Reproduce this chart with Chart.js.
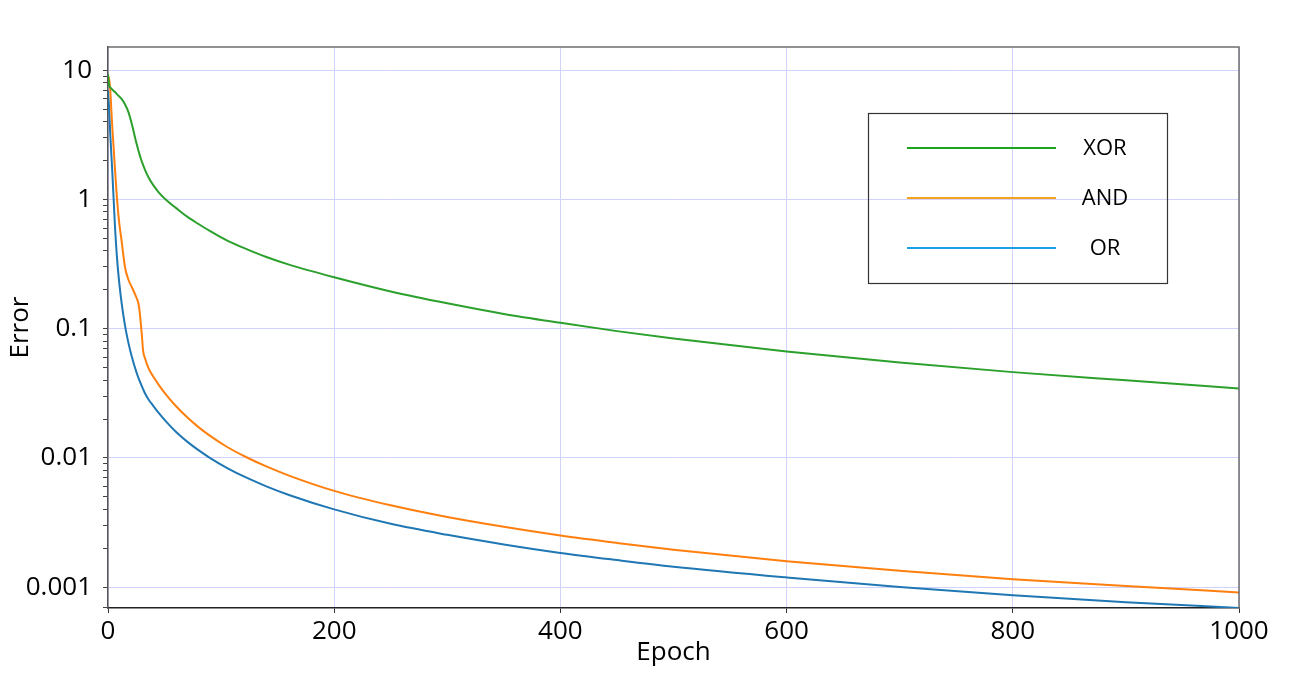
<!DOCTYPE html>
<html lang="en">
<head>
    <meta charset="UTF-8">
    <title>Error vs Epoch</title>
    <script src="https://cdn.jsdelivr.net/npm/chart.js"></script>
    <style>
        body { margin: 0; background: #fff; }
        #wrap { width: 1292px; height: 681px; }
    </style>
</head>
<body>
    <div id="wrap">
        <canvas id="errorChart" width="1292" height="681"></canvas>
    </div>

    <script>
        // Values
        const epochs = [0, 1, 2, 3, 4, 5, 6, 8, 10, 12, 15, 18, 21, 25, 27, 28, 29, 30, 31, 33, 36, 40, 45, 52, 60, 70, 80, 90, 105, 122, 140, 160, 200, 250, 300, 350, 400, 450, 500, 600, 700, 800, 900, 1000];

        const xorError = [9.3, 7.6, 7.35, 7.2, 7.05, 6.9, 6.8, 6.5, 6.25, 6.0, 5.45, 4.75, 3.85, 2.75, 2.37, 2.21, 2.07, 1.95, 1.85, 1.67, 1.47, 1.29, 1.13, 0.98, 0.86, 0.735, 0.645, 0.57, 0.482, 0.414, 0.358, 0.313, 0.25, 0.194, 0.157, 0.130, 0.111, 0.0957, 0.0838, 0.0667, 0.0547, 0.0461, 0.0398, 0.0345];

        const andError = [9.0, 8.5, 7.0, 4.8, 3.4, 2.5, 1.8, 1.0, 0.65, 0.48, 0.30, 0.24, 0.21, 0.175, 0.155, 0.135, 0.11, 0.088, 0.068, 0.058, 0.049, 0.0426, 0.0366, 0.0303, 0.0252, 0.0206, 0.0173, 0.01486, 0.0122, 0.01016, 0.00859, 0.0073, 0.00556, 0.0043, 0.00349, 0.00293, 0.00251, 0.0022, 0.00195, 0.00159, 0.00134, 0.00115, 0.00102, 0.00091];

        const orError = [7.0, 5.0, 3.2, 2.2, 1.5, 1.0, 0.66, 0.35, 0.224, 0.159, 0.106, 0.078, 0.061, 0.0464, 0.0414, 0.0394, 0.0375, 0.0357, 0.0341, 0.0312, 0.0282, 0.0253, 0.0222, 0.01883, 0.01596, 0.01337, 0.01148, 0.01002, 0.00839, 0.00706, 0.00603, 0.00517, 0.0040, 0.00309, 0.00254, 0.00214, 0.00184, 0.00162, 0.00144, 0.00119, 0.001005, 0.000867, 0.000766, 0.00069];

        const yMajorTicks = [0.001, 0.01, 0.1, 1, 10];
        const yTickLabels = ['0.001', '0.01', '0.1', '1', '10'];
        const xTickLabels = ['0', '200', '400', '600', '800', '1000'];

        const FONT = '"Open Sans", "Noto Sans", sans-serif';

        const toPoints = values => epochs.map((e, i) => ({ x: e, y: values[i] }));

        // minor log ticks 2..9 in every decade, majors at powers of ten
        function buildLogTicks(scale) {
            const ticks = [];
            yMajorTicks.forEach(base => {
                ticks.push({ value: base, major: true });
                for (let m = 2; m <= 9; m++) {
                    const v = parseFloat((base * m).toPrecision(6));
                    if (v < scale.max) ticks.push({ value: v, major: false });
                }
            });
            ticks.push({ value: parseFloat((yMajorTicks[0] * 0.7).toPrecision(6)), major: false });
            scale.ticks = ticks.filter(t => t.value >= scale.min && t.value <= scale.max)
                               .sort((a, b) => a.value - b.value);
        }

        const framePlugin = {
            id: 'frame',
            afterDatasetsDraw(chart) {
                const { ctx, chartArea: a } = chart;
                ctx.save();
                ctx.strokeStyle = '#6e6e6e';
                ctx.lineWidth = 1.5;
                ctx.beginPath();
                ctx.moveTo(a.left, a.top);
                ctx.lineTo(a.right, a.top);
                ctx.lineTo(a.right, a.bottom);
                ctx.stroke();
                ctx.restore();
            }
        };

        const boxLegend = {
            id: 'boxLegend',
            afterDraw(chart) {
                const { ctx } = chart;
                ctx.save();
                ctx.strokeStyle = '#333';
                ctx.lineWidth = 1.2;
                ctx.strokeRect(868.5, 113.5, 299, 170);
                ctx.font = '22px ' + FONT;
                ctx.textAlign = 'center';
                ctx.textBaseline = 'middle';
                chart.data.datasets.forEach((ds, i) => {
                    const y = 148 + i * 50;
                    ctx.strokeStyle = ds.legendColor;
                    ctx.lineWidth = 2;
                    ctx.beginPath();
                    ctx.moveTo(907, y);
                    ctx.lineTo(1056, y);
                    ctx.stroke();
                    ctx.fillStyle = '#000';
                    ctx.fillText(ds.label, 1105, y + 1);
                });
                ctx.restore();
            }
        };

        const ctx = document.getElementById('errorChart').getContext('2d');
        const errorChart = new Chart(ctx, {
            type: 'line',
            data: {
                datasets: [
                    { label: 'XOR', data: toPoints(xorError), borderColor: '#2ca02c', legendColor: '#1ea51e' },
                    { label: 'AND', data: toPoints(andError), borderColor: '#ff7f0e', legendColor: '#f7a21b' },
                    { label: 'OR', data: toPoints(orError), borderColor: '#1f77b4', legendColor: '#1ba1e2' }
                ]
            },
            options: {
                responsive: false,
                animation: false,
                layout: { padding: { top: 47, right: 53, left: 0, bottom: 0 } },
                elements: {
                    point: { radius: 0 },
                    line: { borderWidth: 2, cubicInterpolationMode: 'monotone', fill: false }
                },
                plugins: {
                    legend: { display: false },
                    tooltip: { enabled: false }
                },
                scales: {
                    x: {
                        type: 'linear',
                        min: 0,
                        max: 1000,
                        afterFit: s => { s.height = 73; },
                        ticks: {
                            stepSize: 200,
                            color: '#000',
                            padding: 3,
                            font: { family: FONT, size: 26 },
                            callback: (v, i) => xTickLabels[i]
                        },
                        grid: { color: '#d2d2ff', lineWidth: 1, tickColor: '#333', tickLength: 5 },
                        border: { color: '#222', width: 1.5 },
                        title: {
                            display: true,
                            text: 'Epoch',
                            color: '#000',
                            font: { family: FONT, size: 26, lineHeight: 1.2 },
                            padding: { top: 0, bottom: 13 }
                        }
                    },
                    y: {
                        type: 'logarithmic',
                        min: 0.00069,
                        max: 15.1,
                        afterFit: s => { s.width = 108; },
                        afterBuildTicks: buildLogTicks,
                        ticks: {
                            autoSkip: false,
                            color: '#000',
                            padding: 11,
                            font: { family: FONT, size: 26 },
                            callback: v => {
                                const k = yMajorTicks.findIndex(m => Math.abs(m - v) < m * 1e-6);
                                return k >= 0 ? yTickLabels[k] : '';
                            }
                        },
                        grid: {
                            color: c => (c.tick && c.tick.major ? '#d2d2ff' : 'rgba(0,0,0,0)'),
                            tickColor: '#444',
                            tickLength: 5
                        },
                        border: { color: '#555', width: 1.5 },
                        title: {
                            display: true,
                            text: 'Error',
                            color: '#000',
                            font: { family: FONT, size: 26, lineHeight: 1.2 },
                            padding: { top: 5, bottom: 0 }
                        }
                    }
                }
            },
            plugins: [framePlugin, boxLegend]
        });
    </script>
</body>
</html>
